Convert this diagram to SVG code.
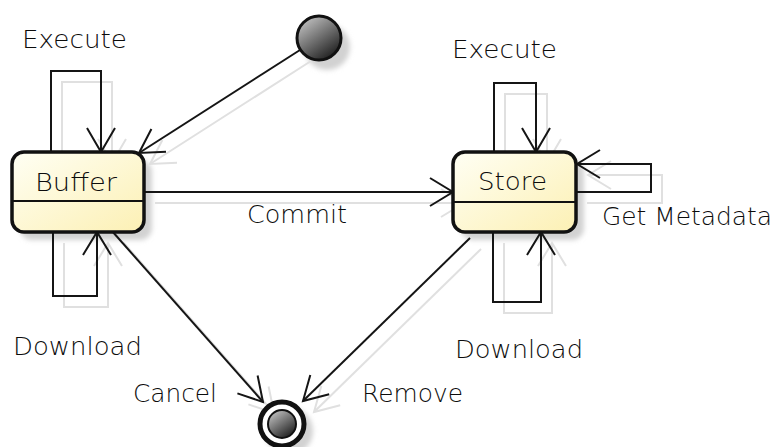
<svg xmlns="http://www.w3.org/2000/svg" xmlns:xlink="http://www.w3.org/1999/xlink" width="774" height="447" viewBox="0 0 774 447">
  <defs>
    <linearGradient id="stateFill" x1="0" y1="0" x2="1" y2="1">
      <stop offset="0" stop-color="#fffff4"/>
      <stop offset="1" stop-color="#fcf0b4"/>
    </linearGradient>
    <linearGradient id="dotFill" x1="0.2" y1="0.1" x2="0.8" y2="0.95">
      <stop offset="0" stop-color="#b8b8b8"/>
      <stop offset="1" stop-color="#1e1e1e"/>
    </linearGradient>
    <filter id="soft" x="-20%" y="-20%" width="140%" height="140%">
      <feGaussianBlur stdDeviation="2.5"/>
    </filter>
    <style>
      .label { font-family: "DejaVu Sans", "Liberation Sans", sans-serif; font-size: 25px; font-weight: 300; fill: #0c0c0c; }
      .state { fill: url(#stateFill); stroke: #111; stroke-width: 3.5; }
      .divider { stroke: #111; stroke-width: 2; }
      .shadow { fill: #d2d2d2; filter: url(#soft); }
      .edge { fill: none; stroke-width: 2; stroke-linejoin: miter; }
    </style>
  </defs>

  <rect width="774" height="447" fill="#fff"/>

  <!-- drop shadows of the nodes -->
  <g id="node-shadows">
    <rect class="shadow" x="20" y="160" width="132" height="80" rx="12"/>
    <rect class="shadow" x="461" y="160" width="123" height="80" rx="12"/>
    <circle class="shadow" cx="327" cy="47" r="23"/>
    <circle class="shadow" cx="289" cy="431" r="24"/>
  </g>

  <!-- faint offset copy of the transitions -->
  <g id="connector-shadows" stroke="#e0e0e0">
    <use xlink:href="#connectors" href="#connectors" transform="translate(11,11)"/>
  </g>

  <g stroke="#151515">
    <g id="connectors" class="edge">
      <!-- initial -> Buffer -->
      <path d="M300,50 L139,153"/>
      <path d="M166,151.8 L139,153 L151.4,129"/>
      <!-- Buffer: Execute (self) -->
      <path d="M51,152 V71 H101 V152"/>
      <path d="M87,128 L101,152 L115,128"/>
      <!-- Buffer: Download (self) -->
      <path d="M53,232 V296 H97 V232"/>
      <path d="M83,255 L97,232 L111,255"/>
      <!-- Buffer -> Store: Commit -->
      <path d="M144,192 H453"/>
      <path d="M430,178 L453,192 L430,206"/>
      <!-- Buffer -> final: Cancel -->
      <path d="M112,231 L263,402"/>
      <path d="M257.6,375.5 L263,402 L237.4,393.4"/>
      <!-- Store -> final: Remove -->
      <path d="M470,238 L303,401"/>
      <path d="M329.2,394.3 L303,401 L310.3,375"/>
      <!-- Store: Execute (self) -->
      <path d="M494,152 V83 H536 V152"/>
      <path d="M522,128 L536,152 L550,128"/>
      <!-- Store: Get Metadata (self) -->
      <path d="M576,192 H651 V164 H577"/>
      <path d="M600,150 L577,164 L600,178"/>
      <!-- Store: Download (self) -->
      <path d="M493,232 V302 H541 V232"/>
      <path d="M527,255 L541,232 L555,255"/>
    </g>
  </g>

  <g id="initial">
    <circle cx="319" cy="38" r="22" fill="url(#dotFill)" stroke="#111" stroke-width="3"/>
  </g>

  <g id="final">
    <circle cx="282" cy="424" r="22" fill="#fff" stroke="#111" stroke-width="5"/>
    <circle cx="282" cy="424" r="14" fill="url(#dotFill)" stroke="#111" stroke-width="2"/>
  </g>

  <g id="buffer">
    <rect class="state" x="12" y="152" width="132" height="80" rx="12"/>
    <line class="divider" x1="13" y1="201" x2="143" y2="201"/>
    <text class="label" x="35" y="191" textLength="82" lengthAdjust="spacingAndGlyphs">Buffer</text>
  </g>

  <g id="store">
    <rect class="state" x="453" y="152" width="123" height="80" rx="12"/>
    <line class="divider" x1="454" y1="202" x2="575" y2="202"/>
    <text class="label" x="478" y="190" textLength="69" lengthAdjust="spacingAndGlyphs">Store</text>
  </g>

  <g id="labels">
    <text class="label" x="22" y="48" textLength="105" lengthAdjust="spacingAndGlyphs">Execute</text>
    <text class="label" x="13" y="355" textLength="129" lengthAdjust="spacingAndGlyphs">Download</text>
    <text class="label" x="133" y="402" textLength="84" lengthAdjust="spacingAndGlyphs">Cancel</text>
    <text class="label" x="247" y="223" textLength="100" lengthAdjust="spacingAndGlyphs">Commit</text>
    <text class="label" x="452" y="58" textLength="105" lengthAdjust="spacingAndGlyphs">Execute</text>
    <text class="label" x="602" y="225" textLength="170" lengthAdjust="spacingAndGlyphs">Get Metadata</text>
    <text class="label" x="455" y="358" textLength="128" lengthAdjust="spacingAndGlyphs">Download</text>
    <text class="label" x="362" y="402" textLength="101" lengthAdjust="spacingAndGlyphs">Remove</text>
  </g>
</svg>
